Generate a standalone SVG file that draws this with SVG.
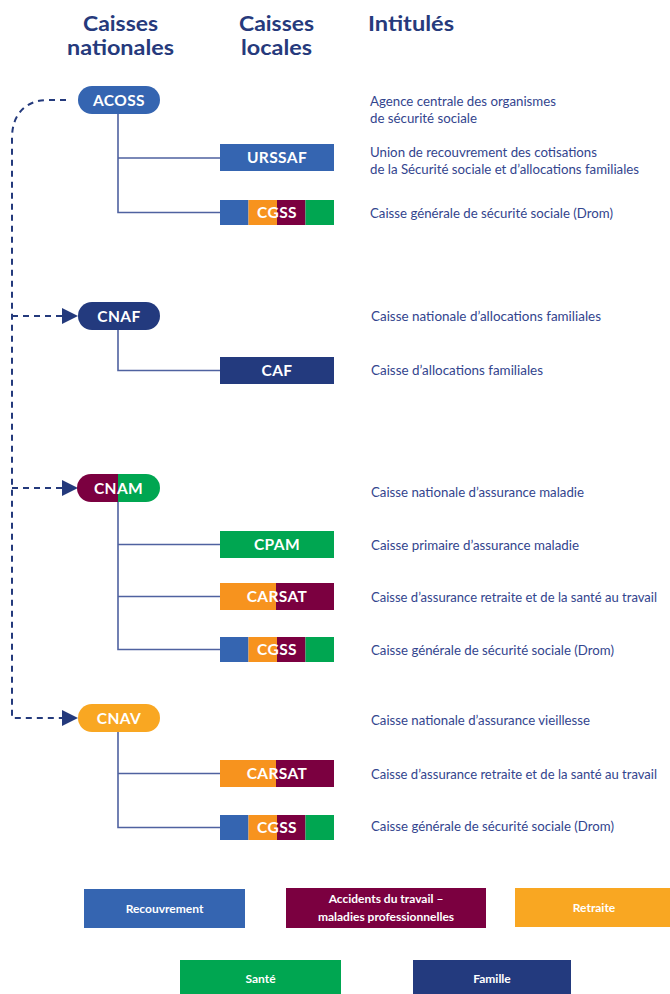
<svg xmlns="http://www.w3.org/2000/svg" width="670" height="994" viewBox="0 0 670 994">
<style>
.hdr{font-family:Lato,"Liberation Sans",sans-serif;font-weight:700;font-size:20.5px;fill:#263a7c}
.desc{font-family:Lato,"Liberation Sans",sans-serif;font-size:12.5px;fill:#33458e}
.lbl{font-family:Lato,"Liberation Sans",sans-serif;font-weight:700;font-size:15.5px;fill:#fff;text-anchor:middle;letter-spacing:0.4px}
.leg{font-family:Lato,"Liberation Sans",sans-serif;font-weight:700;font-size:12px;fill:#fff;text-anchor:middle}
.conn{fill:none;stroke:#4f62a0;stroke-width:1.6}
.dash{fill:none;stroke:#243a7c;stroke-width:2;stroke-dasharray:6 5}
.arr{fill:#243a7c}
.blue{fill:#3565b1}.navy{fill:#233a7e}.maroon{fill:#7b0040}.green{fill:#00a651}.orange{fill:#f7931e}.lorange{fill:#f9a722}
</style>
<defs>
<clipPath id="cnamclip"><rect x="77" y="474" width="83" height="28" rx="14"/></clipPath>
</defs>

<g id="headers">
<text class="hdr" x="83" y="31" textLength="75" lengthAdjust="spacingAndGlyphs">Caisses</text>
<text class="hdr" x="67" y="55" textLength="107" lengthAdjust="spacingAndGlyphs">nationales</text>
<text class="hdr" x="239" y="31" textLength="75" lengthAdjust="spacingAndGlyphs">Caisses</text>
<text class="hdr" x="241" y="55" textLength="71" lengthAdjust="spacingAndGlyphs">locales</text>
<text class="hdr" x="368" y="31" textLength="86" lengthAdjust="spacingAndGlyphs">Intitulés</text>
</g>

<g id="connectors">
<path class="dash" d="M66 100 H48 C26 100 12 114 12 138 V718 H62"/>
<path class="dash" d="M12 316 H62"/>
<path class="dash" d="M12 488 H62"/>
<path class="arr" d="M62 308 L78 316 L62 324 Z"/>
<path class="arr" d="M62 480 L78 488 L62 496 Z"/>
<path class="arr" d="M62 710 L78 718 L62 726 Z"/>
<path class="conn" d="M118 114 V212.5 H220 M118 158 H220"/>
<path class="conn" d="M118 330 V370.5 H220"/>
<path class="conn" d="M118 502 V649.5 H220 M118 544.5 H220 M118 596.5 H220"/>
<path class="conn" d="M118 732 V827.5 H220 M118 773.5 H220"/>
</g>

<g id="acoss">
<rect class="blue" x="78" y="86" width="82" height="28" rx="14"/>
<text class="lbl" x="119" y="105.5">ACOSS</text>
<text class="desc" x="370" y="106" textLength="186" lengthAdjust="spacingAndGlyphs">Agence centrale des organismes</text>
<text class="desc" x="370" y="123" textLength="107" lengthAdjust="spacingAndGlyphs">de sécurité sociale</text>
</g>

<g id="urssaf">
<rect class="blue" x="220" y="144" width="114" height="27"/>
<text class="lbl" x="277" y="163">URSSAF</text>
<text class="desc" x="370" y="157" textLength="227" lengthAdjust="spacingAndGlyphs">Union de recouvrement des cotisations</text>
<text class="desc" x="370" y="174" textLength="269" lengthAdjust="spacingAndGlyphs">de la Sécurité sociale et d’allocations familiales</text>
</g>

<g id="cgss1">
<rect class="blue" x="220" y="200" width="28.5" height="25"/>
<rect class="orange" x="248.5" y="200" width="28.5" height="25"/>
<rect class="maroon" x="277" y="200" width="28.5" height="25"/>
<rect class="green" x="305.5" y="200" width="28.5" height="25"/>
<text class="lbl" x="277" y="218">CGSS</text>
<text class="desc" x="370" y="218" textLength="243" lengthAdjust="spacingAndGlyphs">Caisse générale de sécurité sociale (Drom)</text>
</g>

<g id="cnaf">
<rect class="navy" x="78" y="302" width="82" height="28" rx="14"/>
<text class="lbl" x="119" y="321.5">CNAF</text>
<text class="desc" x="371" y="321" textLength="230" lengthAdjust="spacingAndGlyphs">Caisse nationale d’allocations familiales</text>
</g>

<g id="caf">
<rect class="navy" x="220" y="357" width="114" height="27"/>
<text class="lbl" x="277" y="376">CAF</text>
<text class="desc" x="371" y="375" textLength="172" lengthAdjust="spacingAndGlyphs">Caisse d’allocations familiales</text>
</g>

<g id="cnam">
<g clip-path="url(#cnamclip)">
<rect class="maroon" x="77" y="474" width="41" height="28"/>
<rect class="green" x="118" y="474" width="42" height="28"/>
</g>
<text class="lbl" x="118.5" y="493.5">CNAM</text>
<text class="desc" x="371" y="497" textLength="213" lengthAdjust="spacingAndGlyphs">Caisse nationale d’assurance maladie</text>
</g>

<g id="cpam">
<rect class="green" x="220" y="531" width="114" height="27"/>
<text class="lbl" x="277" y="550">CPAM</text>
<text class="desc" x="371" y="550" textLength="208" lengthAdjust="spacingAndGlyphs">Caisse primaire d’assurance maladie</text>
</g>

<g id="carsat1">
<rect class="orange" x="220" y="583" width="56" height="27"/>
<rect class="maroon" x="276" y="583" width="58" height="27"/>
<text class="lbl" x="277" y="602">CARSAT</text>
<text class="desc" x="371" y="602" textLength="286" lengthAdjust="spacingAndGlyphs">Caisse d’assurance retraite et de la santé au travail</text>
</g>

<g id="cgss2">
<rect class="blue" x="220" y="637" width="28.5" height="25"/>
<rect class="orange" x="248.5" y="637" width="28.5" height="25"/>
<rect class="maroon" x="277" y="637" width="28.5" height="25"/>
<rect class="green" x="305.5" y="637" width="28.5" height="25"/>
<text class="lbl" x="277" y="655">CGSS</text>
<text class="desc" x="371" y="655" textLength="243" lengthAdjust="spacingAndGlyphs">Caisse générale de sécurité sociale (Drom)</text>
</g>

<g id="cnav">
<rect class="lorange" x="78" y="704" width="82" height="28" rx="14"/>
<text class="lbl" x="119" y="723.5">CNAV</text>
<text class="desc" x="371" y="725" textLength="219" lengthAdjust="spacingAndGlyphs">Caisse nationale d’assurance vieillesse</text>
</g>

<g id="carsat2">
<rect class="orange" x="220" y="760" width="56" height="27"/>
<rect class="maroon" x="276" y="760" width="58" height="27"/>
<text class="lbl" x="277" y="779">CARSAT</text>
<text class="desc" x="371" y="779" textLength="286" lengthAdjust="spacingAndGlyphs">Caisse d’assurance retraite et de la santé au travail</text>
</g>

<g id="cgss3">
<rect class="blue" x="220" y="815" width="28.5" height="25"/>
<rect class="orange" x="248.5" y="815" width="28.5" height="25"/>
<rect class="maroon" x="277" y="815" width="28.5" height="25"/>
<rect class="green" x="305.5" y="815" width="28.5" height="25"/>
<text class="lbl" x="277" y="833">CGSS</text>
<text class="desc" x="371" y="831" textLength="243" lengthAdjust="spacingAndGlyphs">Caisse générale de sécurité sociale (Drom)</text>
</g>

<g id="legend">
<rect class="blue" x="84" y="889" width="161" height="39"/>
<text class="leg" x="164.5" y="913">Recouvrement</text>
<rect class="maroon" x="286" y="888" width="200" height="40"/>
<text class="leg" x="386" y="903">Accidents du travail –</text>
<text class="leg" x="386" y="921">maladies professionnelles</text>
<rect class="lorange" x="515" y="888" width="155" height="39"/>
<text class="leg" x="594" y="911.5">Retraite</text>
<rect class="green" x="180" y="960" width="161" height="34"/>
<text class="leg" x="260.5" y="983">Santé</text>
<rect class="navy" x="413" y="960" width="158" height="34"/>
<text class="leg" x="492" y="983">Famille</text>
</g>
</svg>
